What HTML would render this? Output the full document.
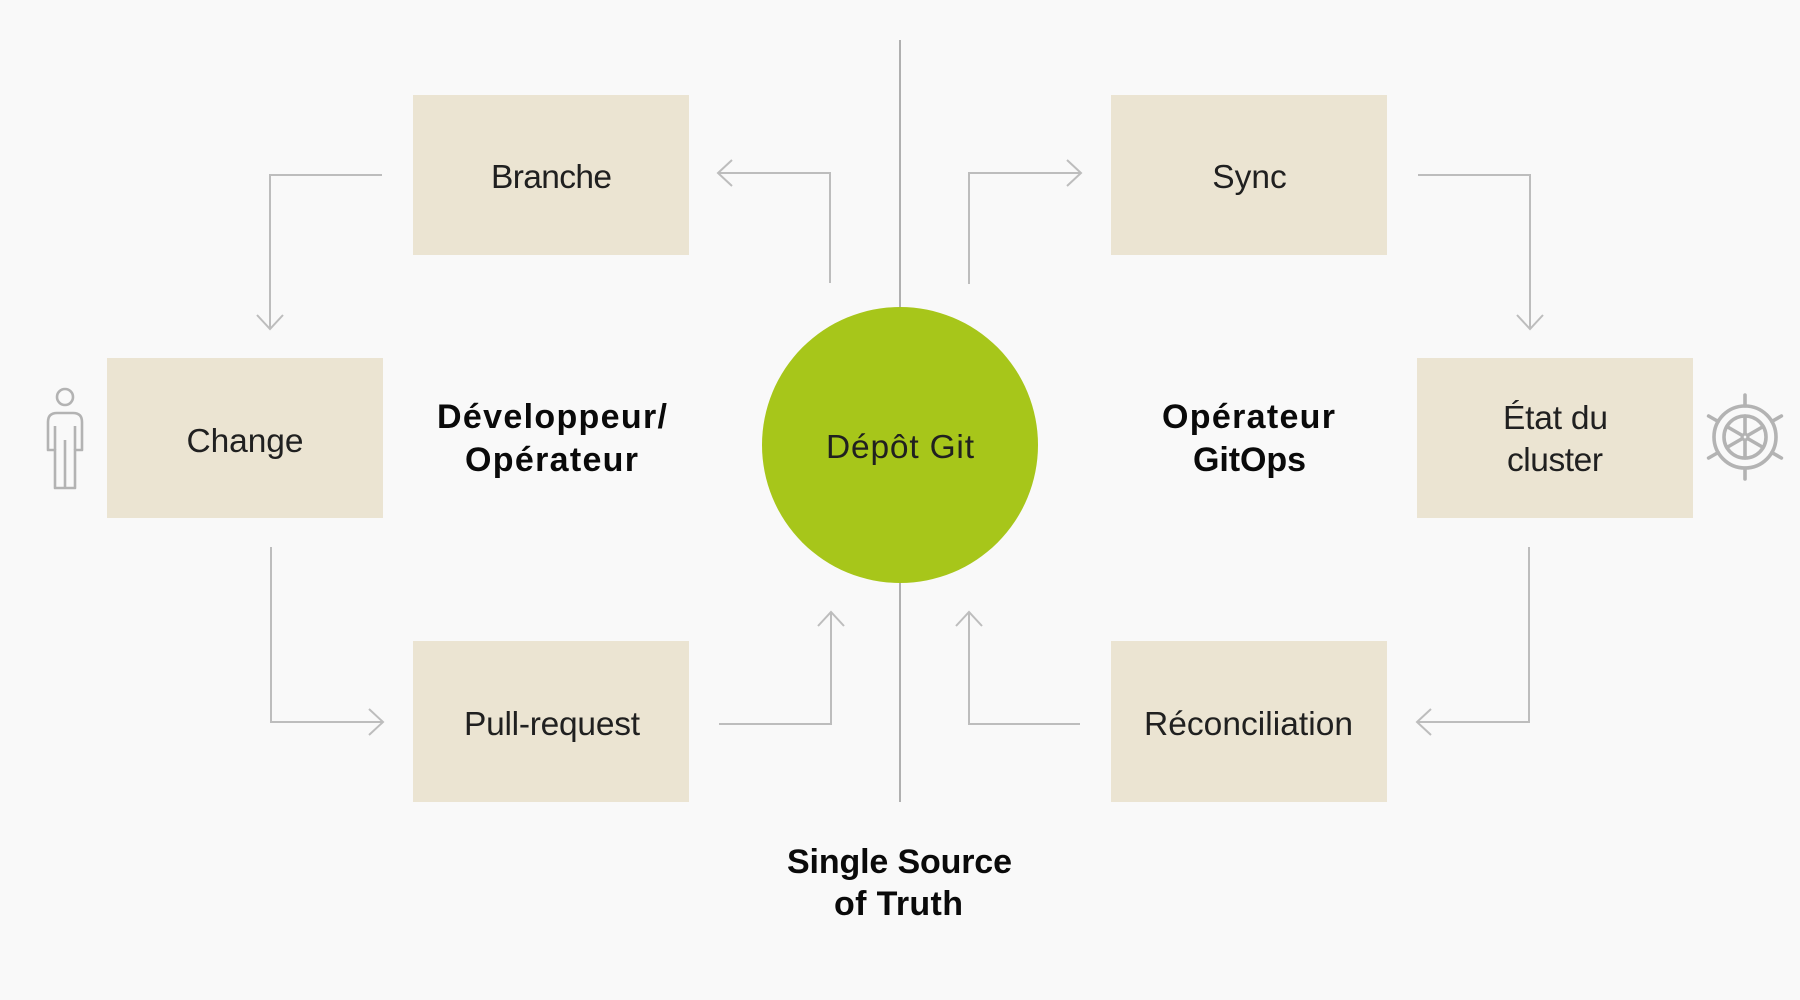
<!DOCTYPE html>
<html><head><meta charset="utf-8"><style>
html,body{margin:0;padding:0;background:#f9f9f9;}
svg{display:block;}
.lt{font-family:"Liberation Sans",sans-serif;font-size:33.5px;fill:#202020;font-weight:400;}
.bd{font-family:"Liberation Sans",sans-serif;font-size:34px;fill:#0a0a0a;font-weight:700;}
.cn{fill:none;stroke:#bdbdbd;stroke-width:2;}
.ic{fill:none;stroke:#b3b3b3;}
</style></head><body>
<svg width="1800" height="1000" viewBox="0 0 1800 1000" xmlns="http://www.w3.org/2000/svg">
<rect width="1800" height="1000" fill="#f9f9f9"/>
<line x1="900" y1="40" x2="900" y2="802" stroke="#9e9e9e" stroke-width="1.6"/>
<circle cx="900" cy="445" r="138" fill="#a7c61a"/>

<rect x="413" y="95" width="276" height="160" fill="#ebe4d2"/>
<rect x="107" y="358" width="276" height="160" fill="#ebe4d2"/>
<rect x="413" y="641" width="276" height="161" fill="#ebe4d2"/>
<rect x="1111" y="95" width="276" height="160" fill="#ebe4d2"/>
<rect x="1417" y="358" width="276" height="160" fill="#ebe4d2"/>
<rect x="1111" y="641" width="276" height="161" fill="#ebe4d2"/>

<g class="cn">
<path d="M382,175 H270 V329"/><path d="M257,315 L270,329 L283,315"/>
<path d="M830,283 V173 H718"/><path d="M732,160 L718,173 L732,186"/>
<path d="M969,284 V173 H1081"/><path d="M1067,160 L1081,173 L1067,186"/>
<path d="M1418,175 H1530 V329"/><path d="M1517,315 L1530,329 L1543,315"/>
<path d="M1529,547 V722 H1417"/><path d="M1431,709 L1417,722 L1431,735"/>
<path d="M1080,724 H969 V612"/><path d="M956,626 L969,612 L982,626"/>
<path d="M271,547 V722 H383"/><path d="M369,709 L383,722 L369,735"/>
<path d="M719,724 H831 V612"/><path d="M818,626 L831,612 L844,626"/>
</g>

<text class="lt" x="551.5" y="188" text-anchor="middle" textLength="121">Branche</text>
<text class="lt" x="245" y="452" text-anchor="middle" textLength="117">Change</text>
<text class="lt" x="552" y="735" text-anchor="middle" textLength="176">Pull-request</text>
<text class="lt" x="1249.5" y="188" text-anchor="middle">Sync</text>
<text class="lt" x="1248.5" y="735" text-anchor="middle" textLength="209">Réconciliation</text>
<text class="lt" x="900" y="458" text-anchor="middle" textLength="148">Dépôt Git</text>
<text class="lt" x="1555.5" y="429" text-anchor="middle" textLength="105">État du</text>
<text class="lt" x="1555" y="471" text-anchor="middle" textLength="96">cluster</text>

<text class="bd" x="552" y="428" text-anchor="middle" textLength="230">Développeur/</text>
<text class="bd" x="551.5" y="471" text-anchor="middle" textLength="173">Opérateur</text>
<text class="bd" x="1248.5" y="428" text-anchor="middle" textLength="173">Opérateur</text>
<text class="bd" x="1249.5" y="471" text-anchor="middle" textLength="113">GitOps</text>
<text class="bd" x="899.5" y="873" text-anchor="middle" textLength="225">Single Source</text>
<text class="bd" x="898.5" y="915" text-anchor="middle" textLength="129">of Truth</text>

<!-- person icon -->
<g class="ic" stroke-width="2.6" stroke-linejoin="round">
<circle cx="65" cy="397" r="8"/>
<path d="M55,488 V450 H48 V422 Q48,413 57,413 H73 Q82,413 82,422 V450 H75 V488 Z"/>
<line x1="55" y1="426" x2="55" y2="450"/>
<line x1="75" y1="426" x2="75" y2="450"/>
<line x1="65" y1="440" x2="65" y2="488"/>
</g>

<!-- helm icon -->
<g class="ic" stroke-width="3.6" stroke-linecap="round">
<circle cx="1745" cy="437" r="31"/>
<circle cx="1745" cy="437" r="21"/>
<circle cx="1745" cy="437" r="3.2" stroke-width="2.5"/>
<line x1="1745" y1="434" x2="1745" y2="416"/>
<line x1="1745" y1="440" x2="1745" y2="458"/>
<line x1="1742.4" y1="435.5" x2="1726.8" y2="426.5"/>
<line x1="1747.6" y1="435.5" x2="1763.2" y2="426.5"/>
<line x1="1742.4" y1="438.5" x2="1726.8" y2="447.5"/>
<line x1="1747.6" y1="438.5" x2="1763.2" y2="447.5"/>
<line x1="1745" y1="406" x2="1745" y2="395"/>
<line x1="1745" y1="468" x2="1745" y2="479"/>
<line x1="1718.2" y1="421.5" x2="1708.6" y2="416"/>
<line x1="1771.8" y1="421.5" x2="1781.4" y2="416"/>
<line x1="1718.2" y1="452.5" x2="1708.6" y2="458"/>
<line x1="1771.8" y1="452.5" x2="1781.4" y2="458"/>
</g>
</svg>
</body></html>
